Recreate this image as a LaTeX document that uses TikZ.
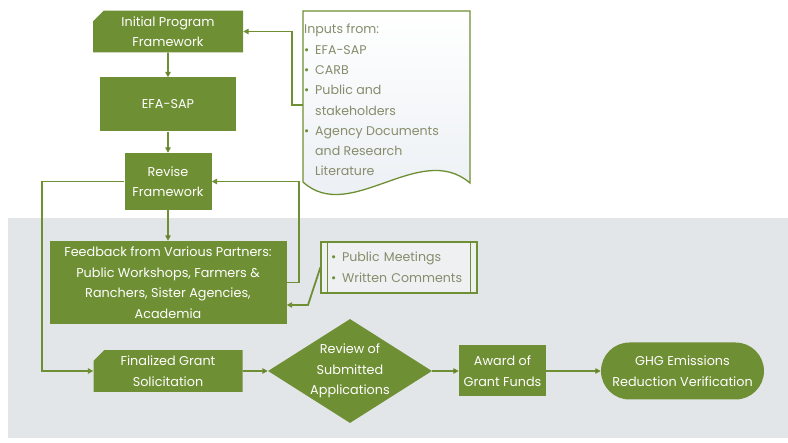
\documentclass[tikz,border=0pt]{standalone}
\usepackage{fontspec}
\setmainfont{Poppins}
\usetikzlibrary{arrows.meta,shapes.geometric,shapes.misc,positioning}

\definecolor{leaf}{HTML}{6F8F34}
\definecolor{panel}{HTML}{E3E6E9}
\definecolor{note}{HTML}{858D6C}
\definecolor{paper}{HTML}{E9EEF3}

\newcommand{\bul}{\makebox[11pt][l]{\textcolor{leaf}{\textbullet}}}

\tikzset{
  box/.style={rectangle,fill=leaf,text=white,align=center,inner sep=2pt,
    font=\fontsize{12.8}{20.5}\selectfont},
  card/.style={box,chamfered rectangle,chamfered rectangle corners=north west,
    chamfered rectangle xsep=7pt},
  decision/.style={diamond,fill=leaf,inner sep=0pt},
  terminal/.style={box,rounded rectangle},
  flow/.style={->,draw=leaf,line width=1.8pt},
}

\begin{document}
\begin{tikzpicture}[x=1pt,y=-1pt,>={Triangle[length=5.5pt,width=5.5pt]}]
\useasboundingbox (0,0) rectangle (788,443);
\fill[panel] (8,218) rectangle (788,438);

\node[card,minimum width=150pt,minimum height=39pt] (init) at (168,31.5) {Initial Program\\Framework};
\node[box,minimum width=136pt,minimum height=54pt] (efa) at (168,104.5) {EFA-SAP};
\node[box,minimum width=87pt,minimum height=57pt] (rev) at (168,181.5) {Revise\\Framework};
\node[box,minimum width=237pt,minimum height=83pt] (feed) at (168,282.5) {Feedback from Various Partners:\\Public Workshops, Farmers \&\\Ranchers, Sister Agencies,\\Academia};
\node[card,minimum width=149pt,minimum height=38pt] (final) at (168,371) {Finalized Grant\\Solicitation};
\node[decision,minimum width=164pt,minimum height=104pt] (review) at (350,371) {};
\node[text=white,align=center,font=\fontsize{12.8}{20.5}\selectfont] (reviewtxt) at (review) {Review of\\Submitted\\Applications};
\node[box,minimum width=87pt,minimum height=51pt] (award) at (502.5,371) {Award of\\Grant Funds};
\node[terminal,minimum width=167pt,minimum height=57pt] (ghg) at (682.5,371) {GHG Emissions\\Reduction Verification};

% document shape with the inputs
\draw[leaf,line width=1.3pt,top color=white,bottom color=paper]
  (303,11) -- (470,11) -- (470,183) .. controls (420,140) and (350,225) .. (303,182) -- cycle;
\node[anchor=north west,align=left,inner sep=0pt,text=note,
  font=\fontsize{12.6}{20.3}\selectfont] (inputs) at (304,24)
  {Inputs from:\\\bul EFA-SAP\\\bul CARB\\\bul Public and\\\hspace*{11pt}stakeholders\\
   \bul Agency Documents\\\hspace*{11pt}and Research\\\hspace*{11pt}Literature};
\coordinate (inp) at (303,105);

% comments box
\node[draw=leaf,line width=1.3pt,fill=panel!60!white,minimum width=156pt,minimum height=51pt,
  text width=136pt,align=left,text=note,font=\fontsize{12.6}{21}\selectfont] (cmt) at (399,267.5)
  {\bul Public Meetings\\\bul Written Comments};
\draw[leaf,line width=1.3pt] ([xshift=7pt]cmt.north west) -- ([xshift=7pt]cmt.south west)
  ([xshift=-7pt]cmt.north east) -- ([xshift=-7pt]cmt.south east);
\coordinate (bend) at (308,305);

\path[flow]
(init) edge (efa)
(efa) edge (rev)
(rev) edge (feed)
(final) edge (review)
(review) edge (award)
(award) edge (ghg);
\draw[flow] (inp) -- ++(-11,0) |- (init.east);
\draw[flow] (feed.east) -- ++(12,0) |- (rev.east);
\draw[flow] (rev.west) -- ++(-82,0) |- (final.west);
\draw[flow] (cmt.west) -- (bend) -- (bend -| feed.east);
\end{tikzpicture}
\end{document}
